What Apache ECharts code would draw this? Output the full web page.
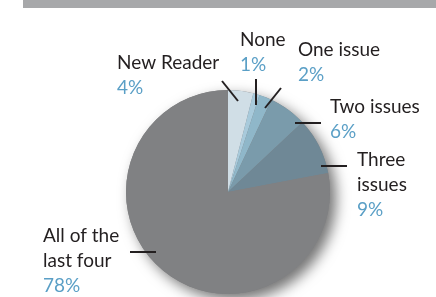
<!DOCTYPE html>
<html>
<head>
<meta charset="utf-8">
<script src="https://cdn.jsdelivr.net/npm/echarts@6/dist/echarts.min.js"></script>
<style>
  html, body { margin: 0; padding: 0; background: #fff; }
  #chart { width: 436px; height: 297px; }
</style>
</head>
<body>
<div id="chart"></div>
<script>
// reader survey: how many of the last issues were read
const categories = ["New Reader", "None", "One issue", "Two issues", "Three\nissues", "All of the\nlast four"];
const shares = [4, 1, 2, 6, 9, 78];
const sliceColors = ["#d0dee6", "#a8cadb", "#8fb7c9", "#7a9bab", "#6f8896", "#808183"];

// where each label sits (top-left) and its short pointer line
const labelSpots = [
  { x: 117, y: 50, line: [[222, 81], [238, 101]] },
  { x: 240, y: 27, line: [[256, 79], [256, 105]] },
  { x: 298, y: 37, line: [[281, 88], [265, 108]] },
  { x: 330, y: 94, line: [[321, 123], [295, 123]] },
  { x: 357, y: 147, line: [[347, 166], [321, 166]] },
  { x: 43, y: 223, line: [[130, 252], [156, 252]] },
];

const chart = echarts.init(document.getElementById("chart"));

// pointer lines go on top of the slices
const pointers = labelSpots.map((s) => ({
  type: "polyline",
  z: 100,
  shape: { points: s.line },
  style: { stroke: "#231f20", lineWidth: 2, fill: null },
}));

chart.setOption({
  animation: false,
  graphic: [
    {
      type: "rect",
      shape: { x: 23, y: 0, width: 413, height: 8 },
      style: { fill: "#a7a8aa" },
    },
  ].concat(pointers),
  series: [
    {
      // shadow disc underneath
      type: "pie",
      silent: true,
      center: [228, 192],
      radius: 102,
      label: { show: false },
      labelLine: { show: false },
      itemStyle: {
        color: "#808183",
        shadowBlur: 14,
        shadowOffsetX: 6,
        shadowOffsetY: 6,
        shadowColor: "rgba(0,0,0,0.55)",
      },
      data: [{ value: 1, name: "" }],
    },
    {
      type: "pie",
      center: [228, 192],
      radius: 102,
      startAngle: 90,
      clockwise: true,
      silent: true,
      itemStyle: { borderWidth: 0 },
      label: {
        show: true,
        overflow: "none",
        formatter: function (p) {
          const rows = p.name.split("\n").map((t) => "{n|" + t + "}");
          return rows.join("\n") + "\n{p|" + p.value + "%}";
        },
        rich: {
          n: { color: "#231f20", fontSize: 19, lineHeight: 25, fontFamily: "Lato" },
          p: { color: "#5a9fc6", fontSize: 19, lineHeight: 25, fontFamily: "Lato" },
        },
      },
      labelLine: { show: false },
      labelLayout: function (params) {
        const s = labelSpots[params.dataIndex];
        return { x: s.x, y: s.y, align: "left", verticalAlign: "top" };
      },
      data: categories.map((c, i) => ({
        name: c,
        value: shares[i],
        itemStyle: { color: sliceColors[i] },
      })),
    },
  ],
});
</script>
</body>
</html>
